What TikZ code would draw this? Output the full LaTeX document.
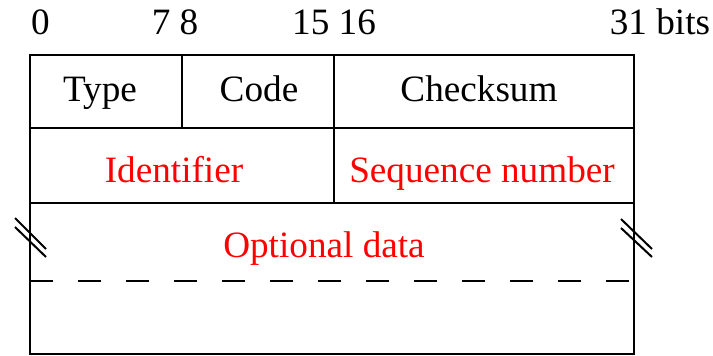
\documentclass[tikz,border=0pt]{standalone}
\usepackage{fontspec}
\setmainfont{Liberation Serif}
\usepackage{tikz}
\usetikzlibrary{calc}

\begin{document}
\begin{tikzpicture}[x=0.5pt,y=-0.5pt,line width=1.2pt,
    field/.style={anchor=base,inner sep=0pt,font=\fontsize{18.6}{22}\selectfont},
    varfield/.style={field,text=red},
    cut/.style={line width=1pt}]
    \useasboundingbox (0,0) rectangle (713,355);
    % frame and rows
    \draw (30,55) coordinate(TL) rectangle (634,354) coordinate(BR);
    \draw (30,128) coordinate(R1L) -- (634,128) coordinate(R1R);
    \draw (30,203) coordinate(R2L) -- (634,203) coordinate(R2R);
    \draw (182,55) -- (182,128);
    \draw (334,55) -- (334,203);
    \draw[dash pattern=on 11.5pt off 12.5pt] (30,281) -- (634,281);
    % break marks
    \draw[cut] (15,218) -- (46,249) (15,227) -- (46,257);
    \draw[cut] (621,219) -- (652,249) (621,228) -- (652,257);
    % bit numbers
    \node[field,anchor=base west] (b0) at (30,34) {0};
    \node[field] (b7) at (175,34) {7 8};
    \node[field] (b15) at (334,34) {15 16};
    \node[field] (b31) at (660,34) {31 bits};
    % fields
    \node[field] (type) at (100,101) {Type};
    \node[field] (code) at (259,101) {Code};
    \node[field] (csum) at (479,101) {Checksum};
    \node[varfield] (ident) at (174,182) {Identifier};
    \node[varfield] (seq) at (482,182) {Sequence number};
    \node[varfield] (opt) at (324,257) {Optional data};
\end{tikzpicture}
\end{document}
